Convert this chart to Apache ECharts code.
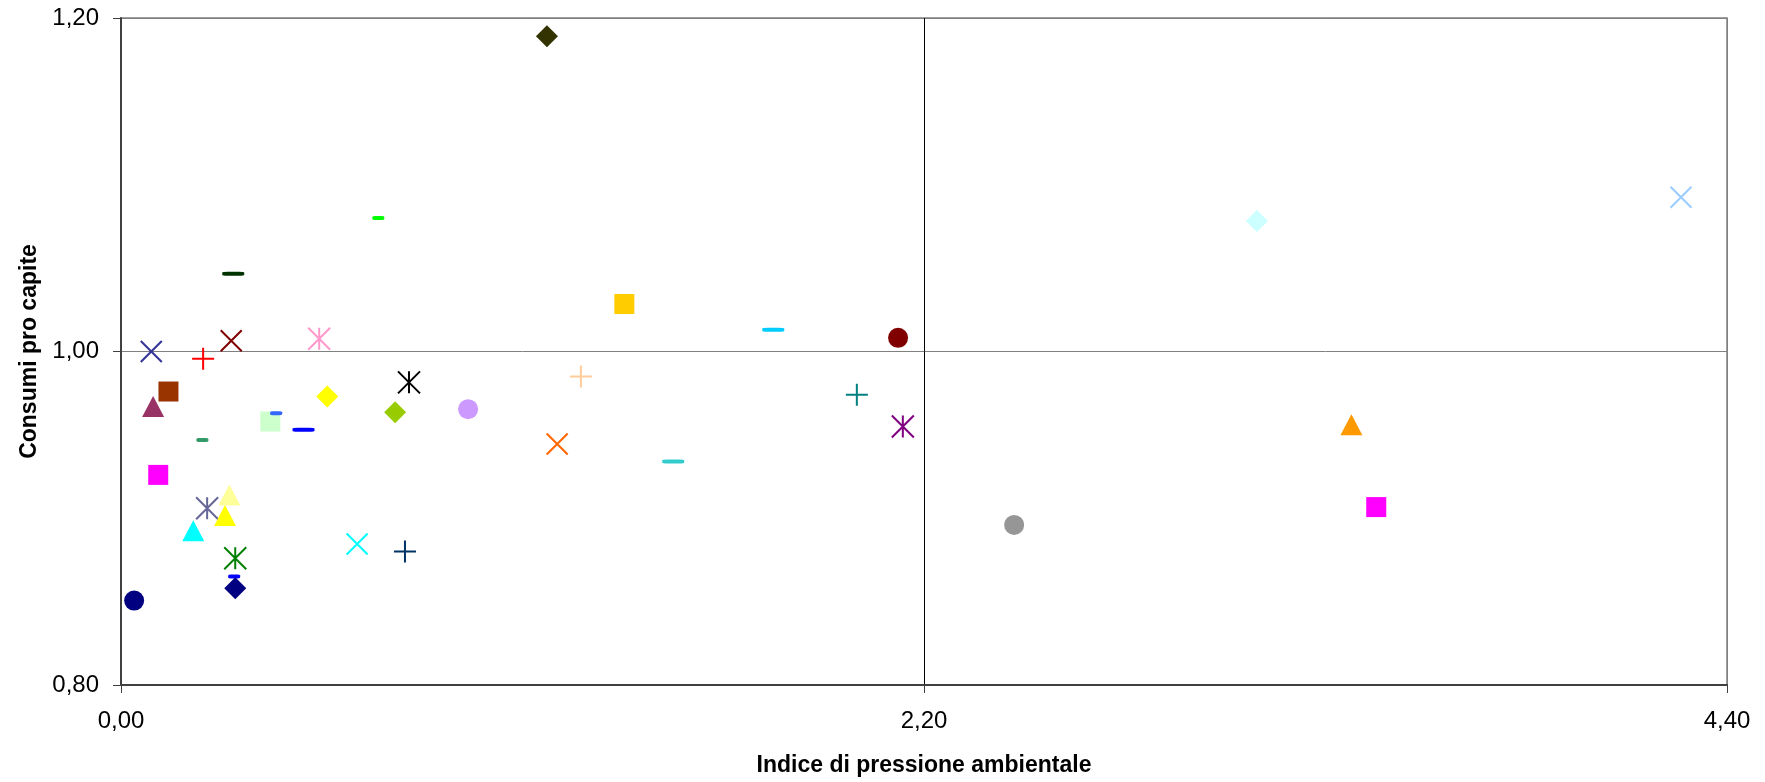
<!DOCTYPE html>
<html>
<head>
<meta charset="utf-8">
<script src="https://cdn.jsdelivr.net/npm/echarts@6/dist/echarts.min.js"></script>
<style>
html,body{margin:0;padding:0;background:#fff;}
#chart{width:1765px;height:782px;}
</style>
</head>
<body>
<div id="chart"></div>
<script>
// Data: x = Indice di pressione ambientale, y = Consumi pro capite
const xValues = [0.083, 0.225, 0.302, 0.543, 0.130, 0.088, 0.409, 0.425, 0.500, 0.565,
                 0.751, 0.789, 0.223, 0.102, 0.236, 0.297, 0.285, 0.198, 0.313, 0.310,
                 0.313, 0.036, 0.647, 0.778, 0.705, 1.379, 1.260, 0.951, 1.195, 1.513,
                 1.167, 1.787, 2.129, 2.016, 2.142, 2.447, 3.112, 4.274, 3.371, 3.439,
                 0.3075];
const yValues = [1.000, 0.9956, 1.0064, 1.0076, 0.976, 0.967, 0.958, 0.963, 0.953, 0.973,
                 0.9636, 0.9815, 0.947, 0.926, 0.906, 0.914, 0.9017, 0.8925, 0.876, 0.865,
                 0.858, 0.8506, 0.8846, 0.880, 1.080, 1.0285, 0.985, 0.9654, 0.9445, 0.934,
                 1.189, 1.0131, 1.0082, 0.974, 0.955, 0.896, 1.0782, 1.0925, 0.956, 0.9067,
                 1.0466];
const xTicks = [0, 2.2, 4.4];
const yTicks = [0.8, 1.0, 1.2];

// Styles (marker shape and colour per point)
const markerShapes = ['x','plus','x','star','square','triangle','square','dashS','dash','diamond',
                      'diamond','star','dashS','square','star','triangle','triangle','triangle','star','dashS',
                      'diamond','circle','x','plus','dashS','square','plus','circle','x','dash',
                      'diamond','dash','circle','plus','star','circle','diamond','x','triangle','square',
                      'dash'];
const markerColors = ['#333399','#FF0000','#800000','#FF99CC','#993300','#993366','#CCFFCC','#3366FF','#0000FF','#FFFF00',
                      '#99CC00','#000000','#339966','#FF00FF','#666699','#FFFF99','#FFFF00','#00FFFF','#008000','#0000FF',
                      '#000080','#000080','#00FFFF','#003366','#00FF00','#FFCC00','#FFCC99','#CC99FF','#FF6600','#33CCCC',
                      '#333300','#00CCFF','#800000','#008080','#800080','#969696','#CCFFFF','#99CCFF','#FF9900','#FF00FF',
                      '#003300'];

const shapeDefs = {
  x:        {symbol: 'path://M0,0L10,10M10,0L0,10', size: 21, stroke: true},
  plus:     {symbol: 'path://M5,0L5,10M0,5L10,5', size: 22, stroke: true},
  star:     {symbol: 'path://M0,0L10,10M10,0L0,10M5,0L5,10', size: 22, stroke: true},
  square:   {symbol: 'rect', size: 20},
  triangle: {symbol: 'triangle', size: [22, 21]},
  diamond:  {symbol: 'diamond', size: 22},
  circle:   {symbol: 'circle', size: 20},
  dash:     {symbol: 'roundRect', size: [22, 4]},
  dashS:    {symbol: 'roundRect', size: [12, 4]}
};

const data = xValues.map((x, i) => {
  const d = shapeDefs[markerShapes[i]];
  const c = markerColors[i];
  return {
    value: [x, yValues[i]],
    symbol: d.symbol,
    symbolSize: d.size,
    itemStyle: d.stroke
      ? {color: 'rgba(0,0,0,0)', borderColor: c, borderWidth: 2, opacity: 1}
      : {color: c, borderWidth: 0, opacity: 1}
  };
});

const fmt = v => v.toFixed(2).replace('.', ',');
const FONT = "'Liberation Sans', Arial, sans-serif";

const chart = echarts.init(document.getElementById('chart'), null, {renderer: 'canvas'});
chart.setOption({
  animation: false,
  backgroundColor: '#ffffff',
  grid: {
    left: 121, right: 38, top: 18, bottom: 94,
    show: true, borderColor: '#808080', borderWidth: 1.5, backgroundColor: 'transparent'
  },
  xAxis: {
    type: 'value',
    min: xTicks[0], max: xTicks[xTicks.length - 1], interval: xTicks[1] - xTicks[0],
    name: 'Indice di pressione ambientale',
    nameLocation: 'middle', nameGap: 69,
    nameTextStyle: {fontFamily: FONT, fontSize: 23, fontWeight: 'bold', color: '#000'},
    axisLine: {show: true, onZero: false, lineStyle: {color: '#404040', width: 2}},
    axisTick: {show: true, inside: false, length: 8, lineStyle: {color: '#404040', width: 1}},
    axisLabel: {formatter: fmt, fontFamily: FONT, fontSize: 24, color: '#000', margin: 24},
    splitLine: {show: true, lineStyle: {color: ['#404040', '#000000', '#808080'], width: 1}}
  },
  yAxis: {
    type: 'value',
    min: yTicks[0], max: yTicks[yTicks.length - 1], interval: 0.2,
    name: 'Consumi pro capite',
    nameLocation: 'middle', nameGap: 76, nameRotate: 90,
    nameTextStyle: {fontFamily: FONT, fontSize: 23, fontWeight: 'bold', color: '#000'},
    axisLine: {show: true, onZero: false, lineStyle: {color: '#404040', width: 2}},
    axisTick: {show: true, inside: false, length: 8, lineStyle: {color: '#404040', width: 1}},
    axisLabel: {formatter: fmt, fontFamily: FONT, fontSize: 24, color: '#000', margin: 22},
    splitLine: {show: true, lineStyle: {color: '#808080', width: 1}}
  },
  series: [{
    type: 'scatter',
    data: data,
    emphasis: {disabled: true},
    z: 5
  }]
});
</script>
</body>
</html>
